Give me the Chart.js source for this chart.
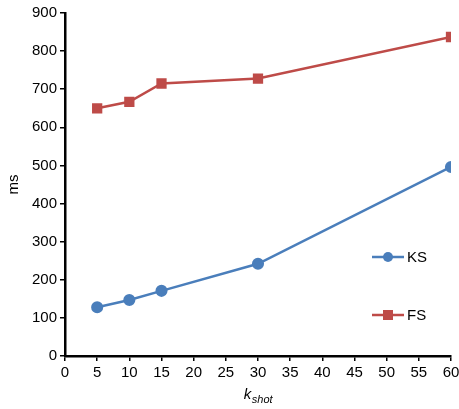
<!DOCTYPE html>
<html>
<head>
<meta charset="utf-8">
<script src="https://cdn.jsdelivr.net/npm/chart.js@4/dist/chart.umd.min.js"></script>
<style>
  html, body { margin: 0; padding: 0; background: #fff; }
  #wrap { width: 459px; height: 409px; }
</style>
</head>
<body>
<div id="wrap"><canvas id="c" width="459" height="409"></canvas></div>
<script>
const kShot = [5, 10, 15, 30, 60];
const ksValues = [128, 147, 171, 242, 496];
const fsValues = [650, 667, 715, 728, 837];
const seriesNames = ['KS', 'FS'];

const FONT = '"Liberation Sans", Arial, Helvetica, sans-serif';
const BLUE = '#4a7ebb';
const RED = '#be4b48';

// Vertical legend placed inside the plot area, right side
const innerLegend = {
  id: 'innerLegend',
  afterDraw(chart) {
    const ctx = chart.ctx;
    const area = chart.chartArea;
    const rows = [area.top + 244, area.top + 302];
    chart.data.datasets.forEach((ds, i) => {
      const y = rows[i];
      const x0 = area.right - 79, x1 = area.right - 47;
      const cx = (x0 + x1) / 2;
      ctx.save();
      ctx.strokeStyle = ds.borderColor;
      ctx.lineWidth = ds.borderWidth;
      ctx.beginPath();
      ctx.moveTo(x0, y); ctx.lineTo(x1, y); ctx.stroke();
      ctx.fillStyle = ds.pointBackgroundColor;
      if (ds.pointStyle === 'rect') {
        ctx.fillRect(cx - 5, y - 5, 10, 10);
      } else {
        ctx.beginPath(); ctx.arc(cx, y, 5, 0, Math.PI * 2); ctx.fill();
      }
      ctx.fillStyle = '#000';
      ctx.font = '15px ' + FONT;
      ctx.textBaseline = 'middle';
      ctx.textAlign = 'left';
      ctx.fillText(ds.label, x1 + 3, y + 1);
      ctx.restore();
    });
  }
};

// x-axis title with subscript: k_shot
const xTitle = {
  id: 'xTitle',
  afterDraw(chart) {
    const ctx = chart.ctx;
    const area = chart.chartArea;
    const cx = (area.left + area.right) / 2;
    ctx.save();
    ctx.fillStyle = '#000';
    ctx.textBaseline = 'alphabetic';
    ctx.font = 'italic 15px ' + FONT;
    const wK = ctx.measureText('k').width;
    ctx.font = 'italic 11px ' + FONT;
    const wS = ctx.measureText('shot').width;
    const start = cx - (wK + wS) / 2;
    ctx.font = 'italic 15px ' + FONT;
    ctx.fillText('k', start, 399);
    ctx.font = 'italic 11px ' + FONT;
    ctx.fillText('shot', start + wK + 0.5, 403);
    ctx.restore();
  }
};

new Chart(document.getElementById('c'), {
  type: 'line',
  data: {
    datasets: [
      {
        label: seriesNames[0],
        data: kShot.map((k, i) => ({ x: k, y: ksValues[i] })),
        borderColor: BLUE,
        backgroundColor: BLUE,
        pointBackgroundColor: BLUE,
        pointBorderColor: BLUE,
        pointStyle: 'circle',
        pointRadius: 4.8,
        borderWidth: 2.5,
        tension: 0
      },
      {
        label: seriesNames[1],
        data: kShot.map((k, i) => ({ x: k, y: fsValues[i] })),
        borderColor: RED,
        backgroundColor: RED,
        pointBackgroundColor: RED,
        pointBorderColor: RED,
        pointStyle: 'rect',
        pointRadius: 5.5,
        borderWidth: 2.5,
        tension: 0
      }
    ]
  },
  options: {
    responsive: false,
    animation: false,
    layout: { padding: { left: 0, right: 0, top: 13, bottom: 0 } },
    plugins: { legend: { display: false }, tooltip: { enabled: false } },
    scales: {
      x: {
        type: 'linear',
        min: 0, max: 60,
        ticks: { stepSize: 5, color: '#000', font: { size: 15, family: FONT }, padding: 3, maxRotation: 0 },
        grid: { display: true, drawOnChartArea: false, drawTicks: true, tickLength: 5, color: '#000', lineWidth: 1.5 },
        border: { display: true, color: '#000', width: 2.5 },
        afterFit(scale) { scale.height = 53; scale.paddingRight = 8; scale.paddingLeft = 0; }
      },
      y: {
        min: 0, max: 900,
        ticks: { stepSize: 100, color: '#000', font: { size: 15, family: FONT }, padding: 3 },
        grid: { display: true, drawOnChartArea: false, drawTicks: true, tickLength: 5, color: '#000', lineWidth: 1.5 },
        border: { display: true, color: '#000', width: 2.5 },
        title: { display: true, text: 'ms', color: '#000', font: { size: 15, family: FONT }, padding: { top: 5, bottom: 0 } },
        afterFit(scale) { scale.width = 65; }
      }
    }
  },
  plugins: [innerLegend, xTitle]
});
</script>
</body>
</html>
